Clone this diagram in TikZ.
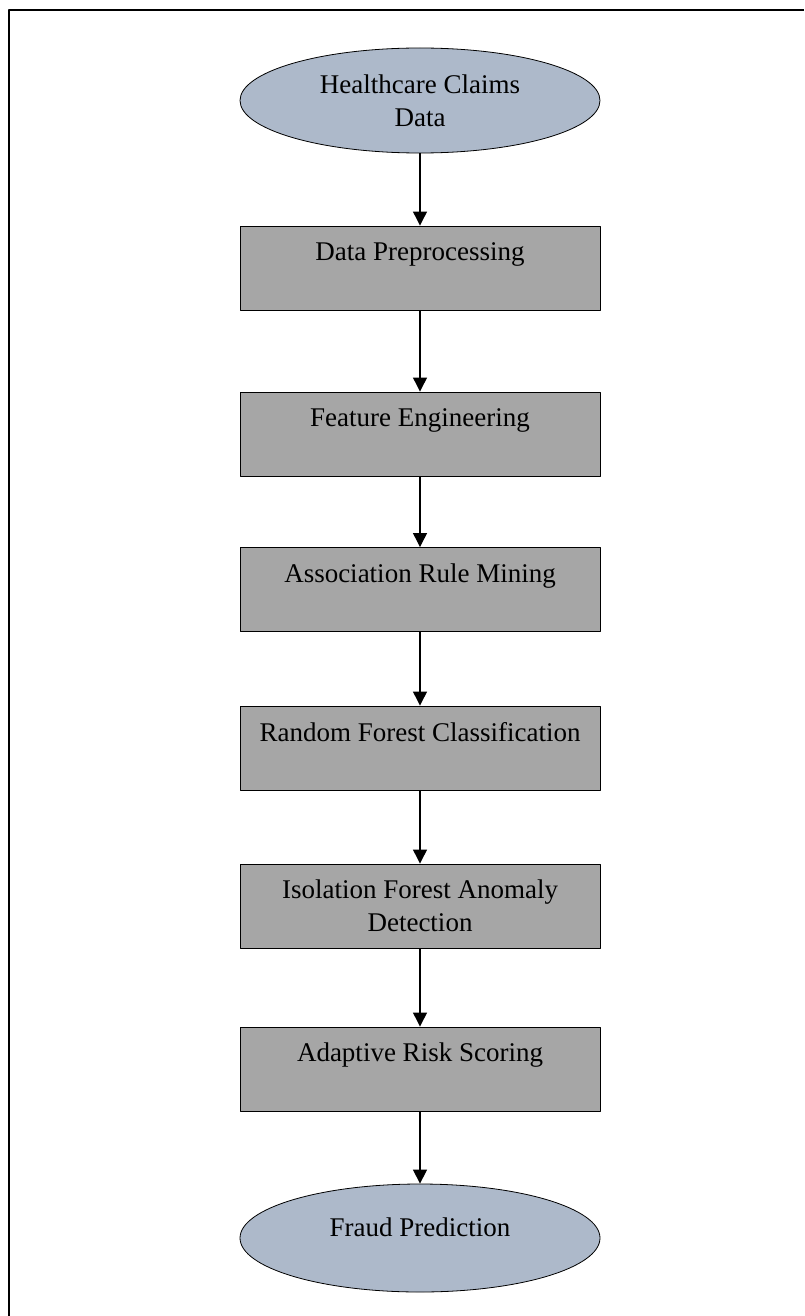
\documentclass[tikz,border=0pt]{standalone}
\usepackage{fontspec}
\setmainfont{Liberation Serif}
\usetikzlibrary{shapes.geometric,arrows.meta}
\definecolor{ovalfill}{HTML}{ADB9CA}
\definecolor{boxfill}{HTML}{A6A6A6}
\begin{document}
\begin{tikzpicture}[x=1pt, y=-1pt, font=\fontsize{27}{33}\selectfont, line join=round, >={Triangle[width=14pt,length=14pt]},
	oval/.style={ellipse, draw, fill=ovalfill, line width=0.8pt, minimum width=360pt, inner sep=0pt, align=center},
	stage/.style={rectangle, draw, fill=boxfill, line width=0.9pt, minimum width=360pt, minimum height=84pt, inner sep=0pt, align=center},
	flow/.style={->, line width=1.2pt}]
	\def\cx{420} % common centre line
	\useasboundingbox (0,0) rectangle (804,1316);
	\draw[line width=2.5pt] (9,1316)--(9,10)--(804,10);
	\node[oval, minimum height=105pt] (claims) at (\cx,100.5) {Healthcare Claims\\Data};
	\node[stage] (prep) at (\cx,268) {Data Preprocessing\\\mbox{}};
	\node[stage] (feat) at (\cx,434) {Feature Engineering\\\mbox{}};
	\node[stage] (rules) at (\cx,589.5) {Association Rule Mining\\\mbox{}};
	\node[stage] (rf) at (\cx,748) {Random Forest Classification\\\mbox{}};
	\node[stage] (iso) at (\cx,906) {Isolation Forest Anomaly\\Detection};
	\node[stage] (risk) at (\cx,1069) {Adaptive Risk Scoring\\\mbox{}};
	\node[oval, minimum height=108pt, text depth=22pt] (fraud) at (\cx,1238) {Fraud Prediction};
	\foreach \a/\b in {claims/prep, prep/feat, feat/rules, rules/rf, rf/iso, iso/risk, risk/fraud}
		\draw[flow] (\a)--(\b);
\end{tikzpicture}
\end{document}
